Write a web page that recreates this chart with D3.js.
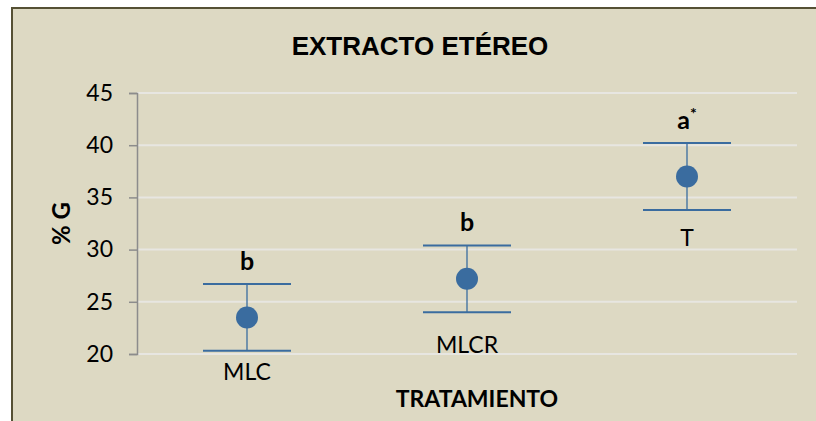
<!DOCTYPE html>
<html>
<head>
<meta charset="utf-8">
<script src="https://cdn.jsdelivr.net/npm/d3@7"></script>
<style>
  html, body { margin: 0; padding: 0; background: #fff; }
  svg { display: block; }
</style>
</head>
<body>
<svg id="chart" width="816" height="421"></svg>
<script>
// data
const categories = ["MLC", "MLCR", "T"];
const means      = [23.5, 27.2, 37.0];
const upper      = [26.7, 30.4, 40.2];
const lower      = [20.3, 24.0, 33.8];
const letters    = ["b", "b", "a"];
const stars      = ["", "", "*"];
const yTicks     = [20, 25, 30, 35, 40, 45];

const width = 816, height = 421;
const plot = { left: 137, right: 797, top: 93, bottom: 354 };
const blue = "#3a6c9f";
const font = "Lato, 'Open Sans', sans-serif";

const svg = d3.select("#chart");

// frame
svg.append("rect")
    .attr("x", 12).attr("y", 8)
    .attr("width", width).attr("height", height)
    .attr("fill", "#ddd9c3")
    .attr("stroke", "#555034")
    .attr("stroke-width", 2);

// scales
const x = d3.scaleBand()
    .domain(categories)
    .range([plot.left, plot.right]);
const y = d3.scaleLinear()
    .domain([20, 45])
    .range([plot.bottom, plot.top]);

// gridlines
svg.append("g")
    .selectAll("line")
    .data(yTicks)
    .join("line")
    .attr("x1", plot.left).attr("x2", plot.right)
    .attr("y1", d => y(d)).attr("y2", d => y(d))
    .attr("stroke", "#e7e6e1")
    .attr("stroke-width", 2);

// y axis
const yAxis = svg.append("g")
    .attr("transform", `translate(${plot.left},0)`)
    .call(d3.axisLeft(y).tickValues(yTicks).tickSize(8).tickPadding(16));
yAxis.select(".domain").attr("stroke", "#8c8c8c").attr("stroke-width", 1.5);
yAxis.selectAll(".tick line").attr("stroke", "#8c8c8c").attr("stroke-width", 1.5);
yAxis.selectAll(".tick text")
    .attr("font-family", font)
    .attr("font-size", 23)
    .attr("fill", "#000");

// error bars + points
const cx = c => x(c) + x.bandwidth() / 2;
const capHalf = 44;
const g = svg.append("g");
categories.forEach((c, i) => {
    g.append("line")
        .attr("x1", cx(c)).attr("x2", cx(c))
        .attr("y1", y(upper[i])).attr("y2", y(lower[i]))
        .attr("stroke", blue).attr("stroke-width", 1.3);
    [upper[i], lower[i]].forEach(v => {
        g.append("line")
            .attr("x1", cx(c) - capHalf).attr("x2", cx(c) + capHalf)
            .attr("y1", y(v)).attr("y2", y(v))
            .attr("stroke", blue).attr("stroke-width", 2);
    });
    g.append("circle")
        .attr("cx", cx(c)).attr("cy", y(means[i]))
        .attr("r", 11)
        .attr("fill", blue);
});

// significance letters above the upper cap
const lab = svg.append("g");
categories.forEach((c, i) => {
    const t = lab.append("text")
        .attr("x", cx(c))
        .attr("y", y(upper[i]) - 14)
        .attr("text-anchor", "middle")
        .attr("font-family", font)
        .attr("font-weight", "bold")
        .attr("font-size", 25)
        .attr("fill", "#000")
        .text(letters[i]);
    if (stars[i]) {
        t.append("tspan")
            .attr("dy", -10)
            .attr("font-size", 16)
            .text(stars[i]);
    }
});

// category labels under the lower cap
const catOffset = [29, 41, 36];
categories.forEach((c, i) => {
    lab.append("text")
        .attr("x", cx(c))
        .attr("y", y(lower[i]) + catOffset[i])
        .attr("text-anchor", "middle")
        .attr("font-family", font)
        .attr("font-size", 23)
        .attr("fill", "#000")
        .text(c);
});

// titles
svg.append("text")
    .attr("x", 420).attr("y", 55)
    .attr("text-anchor", "middle")
    .attr("font-family", "'Liberation Sans', Arial, sans-serif")
    .attr("font-weight", "bold")
    .attr("font-size", 26)
    .attr("fill", "#000")
    .text("EXTRACTO ETÉREO");

svg.append("text")
    .attr("x", 477).attr("y", 407)
    .attr("text-anchor", "middle")
    .attr("font-family", font)
    .attr("font-weight", "bold")
    .attr("font-size", 23)
    .attr("fill", "#000")
    .text("TRATAMIENTO");

svg.append("text")
    .attr("transform", `translate(70,${(plot.top + plot.bottom) / 2}) rotate(-90)`)
    .attr("text-anchor", "middle")
    .attr("font-family", font)
    .attr("font-weight", "bold")
    .attr("font-size", 24)
    .attr("fill", "#000")
    .text("% G");
</script>
</body>
</html>
